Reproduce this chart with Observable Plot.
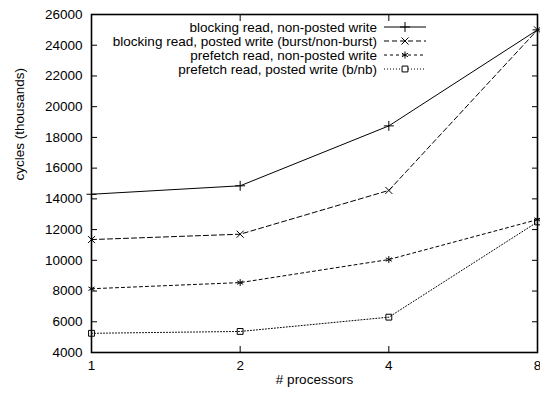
<!DOCTYPE html>
<html>
<head>
<meta charset="utf-8">
<script src="https://cdn.jsdelivr.net/npm/d3@7"></script>
<script src="https://cdn.jsdelivr.net/npm/@observablehq/plot@0.6"></script>
<style>
  html, body { margin: 0; padding: 0; background: #fff; }
  #chart svg { display: block; }
</style>
</head>
<body>
<div id="chart"></div>
<script>
const processors = [1, 2, 4, 8];
const seriesNames = [
  "blocking read, non-posted write",
  "blocking read, posted write (burst/non-burst)",
  "prefetch read, non-posted write",
  "prefetch read, posted write (b/nb)"
];
const blockingNonPosted = [14300, 14850, 18750, 25000];
const blockingPosted    = [11350, 11700, 14550, 25000];
const prefetchNonPosted = [8150, 8550, 10050, 12650];
const prefetchPosted    = [5250, 5370, 6300, 12500];
const yTicks = d3.range(4000, 26001, 2000);
const xLabel = "# processors";
const yLabel = "cycles (thousands)";

const seriesValues = [blockingNonPosted, blockingPosted, prefetchNonPosted, prefetchPosted];
const symbols = ["plus", "times", "asterisk", "square"];
const dashes = [null, "5,3", "3,3", "1,2"];

const marks = [];
seriesValues.forEach((vals, i) => {
  const data = processors.map((p, j) => ({x: p, y: vals[j]}));
  marks.push(Plot.line(data, {x: "x", y: "y", stroke: "#000", strokeWidth: 1, strokeDasharray: dashes[i]}));
  marks.push(Plot.dot(data, {x: "x", y: "y", symbol: () => symbols[i], r: 3.3, stroke: "#000", strokeWidth: 1, fill: "none"}));
});

const font = "Liberation Sans, Arial, Helvetica, sans-serif";
const noText = {fill: "none", tickFormat: () => ""};

const plot = Plot.plot({
  width: 540,
  height: 394,
  marginLeft: 91,
  marginRight: 3,
  marginTop: 14,
  marginBottom: 42,
  style: {fontFamily: font, fontSize: "13.5px", color: "#000", background: "#fff"},
  x: {type: "log", base: 2, domain: [1, 8]},
  y: {domain: [4000, 26000]},
  symbol: {type: "identity"},
  marks: [
    // inward ticks (no labels)
    Plot.axisY(yTicks, {anchor: "left", tickSize: -6, label: null, strokeWidth: 1, ...noText}),
    Plot.axisY(yTicks, {anchor: "right", tickSize: -6, label: null, strokeWidth: 1, ...noText}),
    Plot.axisX(processors, {anchor: "bottom", tickSize: -6, label: null, strokeWidth: 1, ...noText}),
    Plot.axisX(processors, {anchor: "top", tickSize: -6, label: null, strokeWidth: 1, ...noText}),
    // tick labels
    Plot.axisY(yTicks, {anchor: "left", tickSize: 0, tickPadding: 9, label: null, tickFormat: d => String(d)}),
    Plot.axisX(processors, {anchor: "bottom", tickSize: 0, tickPadding: 8, label: null, tickFormat: d => String(d)}),
    Plot.text([yLabel], {text: d => d, frameAnchor: "left", dx: -72, dy: -3, rotate: -90}),
    Plot.text([xLabel], {text: d => d, frameAnchor: "bottom", dy: 31}),
    ...marks,
    Plot.frame({stroke: "#000", strokeWidth: 1.6})
  ]
});

document.getElementById("chart").appendChild(plot);

// legend (top right, inside frame)
const svg = d3.select(plot);
const g = svg.append("g").attr("font-family", font).attr("font-size", "13.5px");
const textRight = 377, lineX1 = 384, lineX2 = 426, rowY0 = 27, rowDy = 14;
const symMap = {plus: d3.symbolPlus, times: d3.symbolTimes, asterisk: d3.symbolAsterisk, square: d3.symbolSquare};
seriesNames.forEach((name, i) => {
  const y = rowY0 + i * rowDy;
  g.append("text").attr("x", textRight).attr("y", y).attr("dy", "0.35em").attr("text-anchor", "end").attr("fill", "#000").text(name);
  g.append("line").attr("x1", lineX1).attr("x2", lineX2).attr("y1", y).attr("y2", y)
    .attr("stroke", "#000").attr("stroke-width", 1).attr("stroke-dasharray", dashes[i]);
  g.append("path").attr("transform", `translate(${(lineX1 + lineX2) / 2},${y})`)
    .attr("d", d3.symbol(symMap[symbols[i]], 3.3 * 3.3 * Math.PI)())
    .attr("fill", "#fff").attr("stroke", "#000").attr("stroke-width", 1);
});
</script>
</body>
</html>
